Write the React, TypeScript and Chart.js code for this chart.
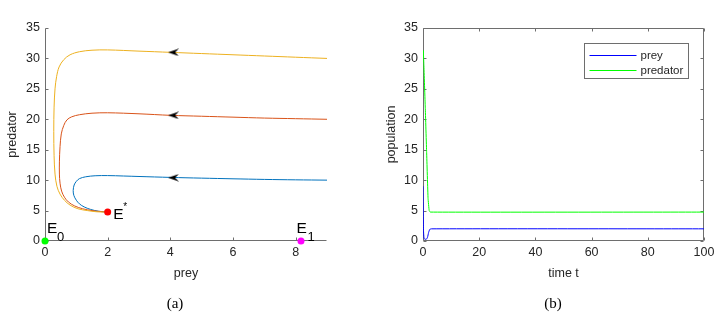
import React, { useEffect, useRef } from "react";
import { Chart, registerables } from "chart.js";

Chart.register(...registerables);

// ---------- tick labels ----------
const preyTicks = [0, 2, 4, 6, 8];
const predatorTicks = [0, 5, 10, 15, 20, 25, 30, 35];
const timeTicks = [0, 20, 40, 60, 80, 100];
const populationTicks = [0, 5, 10, 15, 20, 25, 30, 35];

// ---------- (a) phase portrait trajectories ----------
const traj1X = [9, 8, 7, 6, 5, 4, 3, 2.5, 2, 1.6, 1.3, 1.1, 1.0, 0.93, 0.9, 0.92, 1.0, 1.1, 1.25, 1.45, 1.7, 2.0];
const traj1Y = [10, 10.05, 10.12, 10.22, 10.33, 10.45, 10.6, 10.68, 10.75, 10.72, 10.55, 10.25, 9.8, 9.2, 8.3, 7.5, 6.7, 6.1, 5.6, 5.2, 4.9, 4.75];

const traj2X = [9, 8, 7, 6, 5, 4, 3, 2, 1.5, 1.1, 0.85, 0.7, 0.6, 0.52, 0.48, 0.46, 0.46, 0.48, 0.53, 0.62, 0.75, 0.95, 1.2, 1.5, 1.75, 2.0];
const traj2Y = [20, 20.1, 20.2, 20.35, 20.5, 20.65, 20.9, 21.07, 21.0, 20.75, 20.4, 19.9, 19.0, 17.6, 15.5, 13, 11, 9.5, 8.2, 7.2, 6.4, 5.75, 5.3, 5.0, 4.85, 4.75];

const traj3X = [9, 8, 7, 6, 5, 4, 3, 2, 1.5, 1.1, 0.8, 0.6, 0.45, 0.37, 0.32, 0.29, 0.28, 0.29, 0.32, 0.38, 0.48, 0.62, 0.8, 1.05, 1.35, 1.65, 2.0];
const traj3Y = [30, 30.2, 30.4, 30.6, 30.8, 31.0, 31.2, 31.4, 31.35, 31.1, 30.6, 29.8, 28.6, 27, 25, 22, 18, 14, 11, 9, 7.7, 6.7, 5.9, 5.3, 5.0, 4.8, 4.75];

const arrowX = [4.1, 4.1, 4.1];
const arrowY = [10.4, 20.65, 31.0];

const eqX = [0, 2, 8.17];
const eqY = [0, 4.75, 0];
const eqName = ["E", "E", "E"];
const eqMark = ["0", "*", "1"];
const eqColors = ["#00ff00", "#ff0000", "#ff00ff"];

// ---------- (b) time series ----------
const preyT = [0, 0.1, 0.2, 0.35, 0.6, 1.2, 1.6, 2.0, 2.4, 3, 100];
const preyV = [9, 4, 1.5, 0.5, 0.3, 0.3, 0.6, 1.4, 1.9, 2.0, 2.0];
const predT = [0, 0.1, 0.3, 0.8, 1.3, 1.8, 2.2, 2.6, 100];
const predV = [30, 31.3, 29, 22, 14.5, 7, 5, 4.75, 4.75];
const seriesNames = ["prey", "predator"];

const SANS = "'Liberation Sans', Arial, Helvetica, sans-serif";
const TEXT = "#262626";
const AXIS = "#6e6e6e";

const pts = (xs: number[], ys: number[]) => xs.map((x, i) => ({ x, y: ys[i] }));

function makeArrow(): HTMLCanvasElement {
  const c = document.createElement("canvas");
  c.width = 11;
  c.height = 8;
  const g = c.getContext("2d")!;
  g.fillStyle = "#000";
  g.beginPath();
  g.moveTo(0, 4);
  g.lineTo(11, 0.3);
  g.lineTo(7, 4);
  g.lineTo(11, 7.7);
  g.closePath();
  g.fill();
  return c;
}

const matlabAxes = {
  id: "matlabAxes",
  beforeDatasetsDraw(chart: any, _args: any, opts: any) {
    const { ctx, chartArea: a, scales } = chart;
    const L = Math.round(a.left) + 0.5;
    const R = Math.round(a.right) - 0.5;
    const T = Math.round(a.top) + 0.5;
    const B = Math.round(a.bottom) - 0.5;
    const tl = opts.tickLen ?? 3;
    ctx.save();
    ctx.strokeStyle = opts.color ?? AXIS;
    ctx.lineWidth = 1;
    ctx.beginPath();
    ctx.moveTo(L, T);
    ctx.lineTo(L, B);
    ctx.lineTo(R, B);
    if (opts.box) {
      ctx.lineTo(R, T);
      ctx.lineTo(L, T);
    }
    scales.x.ticks.forEach((t: any) => {
      const p = Math.round(scales.x.getPixelForValue(t.value)) + 0.5;
      ctx.moveTo(p, B);
      ctx.lineTo(p, B - tl);
      if (opts.box) {
        ctx.moveTo(p, T);
        ctx.lineTo(p, T + tl);
      }
    });
    scales.y.ticks.forEach((t: any) => {
      const p = Math.round(scales.y.getPixelForValue(t.value)) + 0.5;
      ctx.moveTo(L, p);
      ctx.lineTo(L + tl, p);
      if (opts.box) {
        ctx.moveTo(R, p);
        ctx.lineTo(R - tl, p);
      }
    });
    ctx.stroke();
    ctx.restore();
  },
};

const eqLabels = {
  id: "eqLabels",
  afterDatasetsDraw(chart: any) {
    const { ctx, scales } = chart;
    const main = [
      { dx: 2, dy: -8 },
      { dx: 5.5, dy: 6.5 },
      { dx: -4.5, dy: -8 },
    ];
    const mark = [
      { dx: 12, dy: -0.5, size: 13 },
      { dx: 15.5, dy: -2.5, size: 10 },
      { dx: 6.5, dy: -0.5, size: 13 },
    ];
    ctx.save();
    ctx.fillStyle = "#000";
    ctx.textAlign = "left";
    ctx.textBaseline = "alphabetic";
    eqX.forEach((xv, i) => {
      const px = scales.x.getPixelForValue(xv);
      const py = scales.y.getPixelForValue(eqY[i]);
      ctx.font = `15.5px ${SANS}`;
      ctx.fillText(eqName[i], px + main[i].dx, py + main[i].dy);
      ctx.font = `${mark[i].size}px ${SANS}`;
      ctx.fillText(eqMark[i], px + mark[i].dx, py + mark[i].dy);
    });
    ctx.restore();
  },
};

const boxLegend = {
  id: "boxLegend",
  afterDraw(chart: any) {
    const { ctx, chartArea: a } = chart;
    const left = Math.round(a.right - 120) + 0.5;
    const top = Math.round(a.top + 15) + 0.5;
    const w = 104;
    const h = 35;
    ctx.save();
    ctx.fillStyle = "#fff";
    ctx.fillRect(left, top, w, h);
    ctx.strokeStyle = AXIS;
    ctx.lineWidth = 1;
    ctx.strokeRect(left, top, w, h);
    ctx.font = `11.5px ${SANS}`;
    ctx.textBaseline = "middle";
    ctx.textAlign = "left";
    chart.data.datasets.forEach((ds: any, i: number) => {
      const y = Math.round(top + 11 + i * 15) + 0.5;
      ctx.strokeStyle = ds.borderColor;
      ctx.beginPath();
      ctx.moveTo(left + 5, y);
      ctx.lineTo(left + 52, y);
      ctx.stroke();
      ctx.fillStyle = TEXT;
      ctx.fillText(ds.label, left + 56, y);
    });
    ctx.restore();
  },
};

const tickFont = { family: SANS, size: 12.5 };
const titleFont = { family: SANS, size: 12.5 };

export default function App() {
  const leftRef = useRef<HTMLCanvasElement>(null);
  const rightRef = useRef<HTMLCanvasElement>(null);

  useEffect(() => {
    const arrowImg = makeArrow();
    const c1 = new Chart(leftRef.current!, {
      type: "scatter",
      data: {
        datasets: [
          {
            label: "equilibria",
            data: pts(eqX, eqY),
            pointRadius: 3.5,
            pointBackgroundColor: eqColors,
            pointBorderColor: eqColors,
            pointBorderWidth: 0,
            showLine: false,
            clip: false as any,
          },
          {
            label: "arrows",
            data: pts(arrowX, arrowY),
            pointStyle: arrowImg as any,
            pointRadius: 5,
            showLine: false,
          },
          {
            label: "traj3",
            data: pts(traj3X, traj3Y),
            showLine: true,
            borderColor: "#EDB120",
            borderWidth: 1,
            pointRadius: 0,
            tension: 0.35,
          },
          {
            label: "traj2",
            data: pts(traj2X, traj2Y),
            showLine: true,
            borderColor: "#D95319",
            borderWidth: 1,
            pointRadius: 0,
            tension: 0.35,
          },
          {
            label: "traj1",
            data: pts(traj1X, traj1Y),
            showLine: true,
            borderColor: "#0072BD",
            borderWidth: 1,
            pointRadius: 0,
            tension: 0.35,
          },
        ],
      },
      options: {
        animation: false,
        responsive: false,
        maintainAspectRatio: false,
        layout: { padding: { left: 0, top: 28, right: 36, bottom: 37 } },
        plugins: {
          legend: { display: false },
          tooltip: { enabled: false },
          matlabAxes: { box: false, color: AXIS, tickLen: 3 },
        } as any,
        scales: {
          x: {
            type: "linear",
            min: 0,
            max: 9,
            afterBuildTicks: (s: any) => {
              s.ticks = preyTicks.map((v) => ({ value: v }));
            },
            afterFit: (s: any) => {
              s.height = 40;
            },
            grid: { display: false, drawTicks: false },
            border: { display: false },
            ticks: { font: tickFont, color: TEXT, padding: 4, maxRotation: 0 },
            title: { display: true, text: "prey", font: titleFont, color: TEXT, padding: 0 },
          },
          y: {
            type: "linear",
            min: 0,
            max: 35,
            afterBuildTicks: (s: any) => {
              s.ticks = predatorTicks.map((v) => ({ value: v }));
            },
            afterFit: (s: any) => {
              s.width = 45;
            },
            grid: { display: false, drawTicks: false },
            border: { display: false },
            ticks: { font: tickFont, color: TEXT, padding: 5 },
            title: { display: true, text: "predator", font: titleFont, color: TEXT, padding: { top: 5.5, bottom: 0 } },
          },
        },
      },
      plugins: [matlabAxes, eqLabels],
    });

    const c2 = new Chart(rightRef.current!, {
      type: "scatter",
      data: {
        datasets: [
          {
            label: seriesNames[0],
            data: pts(preyT, preyV),
            showLine: true,
            borderColor: "#0000ff",
            borderWidth: 1,
            pointRadius: 0,
            tension: 0.2,
          },
          {
            label: seriesNames[1],
            data: pts(predT, predV),
            showLine: true,
            borderColor: "#00ff00",
            borderWidth: 1,
            pointRadius: 0,
            tension: 0.1,
          },
        ],
      },
      options: {
        animation: false,
        responsive: false,
        maintainAspectRatio: false,
        layout: { padding: { left: 0, top: 28, right: 22, bottom: 37 } },
        plugins: {
          legend: { display: false },
          tooltip: { enabled: false },
          matlabAxes: { box: true, color: AXIS, tickLen: 3 },
        } as any,
        scales: {
          x: {
            type: "linear",
            min: 0,
            max: 100,
            afterBuildTicks: (s: any) => {
              s.ticks = timeTicks.map((v) => ({ value: v }));
            },
            afterFit: (s: any) => {
              s.height = 40;
            },
            grid: { display: false, drawTicks: false },
            border: { display: false },
            ticks: { font: tickFont, color: TEXT, padding: 4, maxRotation: 0 },
            title: { display: true, text: "time t", font: titleFont, color: TEXT, padding: 0 },
          },
          y: {
            type: "linear",
            min: 0,
            max: 35,
            afterBuildTicks: (s: any) => {
              s.ticks = populationTicks.map((v) => ({ value: v }));
            },
            afterFit: (s: any) => {
              s.width = 60;
            },
            grid: { display: false, drawTicks: false },
            border: { display: false },
            ticks: { font: tickFont, color: TEXT, padding: 5 },
            title: { display: true, text: "population", font: titleFont, color: TEXT, padding: { top: 21.5, bottom: 0 } },
          },
        },
      },
      plugins: [matlabAxes, boxLegend],
    });

    return () => {
      c1.destroy();
      c2.destroy();
    };
  }, []);

  const capStyle: React.CSSProperties = {
    position: "absolute",
    top: 294,
    height: 18,
    lineHeight: "18px",
    textAlign: "center",
    fontFamily: "'Liberation Serif', 'Times New Roman', serif",
    fontSize: 15,
    color: "#000",
  };

  return (
    <div style={{ position: "fixed", left: 0, top: 0, width: 726, height: 318, background: "#fff", overflow: "hidden" }}>
      <canvas ref={leftRef} width={363} height={318} style={{ position: "absolute", left: 0, top: 0, width: 363, height: 318 }} />
      <canvas ref={rightRef} width={363} height={318} style={{ position: "absolute", left: 363, top: 0, width: 363, height: 318 }} />
      <div style={{ ...capStyle, left: 0, width: 350 }}>(a)</div>
      <div style={{ ...capStyle, left: 363, width: 380 }}>(b)</div>
    </div>
  );
}
